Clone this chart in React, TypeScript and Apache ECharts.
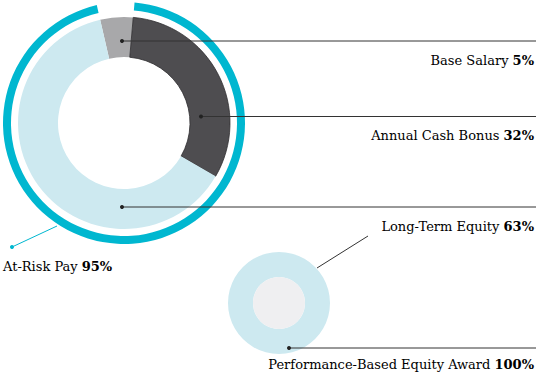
import React, { useEffect, useRef } from "react";
import * as echarts from "echarts";

const compCategories = ["Base Salary", "Annual Cash Bonus", "Long-Term Equity"];
const compValues = [5, 32, 63];
const atRiskLabel = "At-Risk Pay";
const atRiskValue = 95;
const perfLabel = "Performance-Based Equity Award";
const perfValue = 100;

const compColors = ["#a8a8aa", "#4e4d50", "#cde9f0"];
const TEAL = "#00b7d0";
const LINE = "#333333";
const FONT = "DejaVu Serif";

export default function App() {
  const ref = useRef<HTMLDivElement>(null);
  useEffect(() => {
    if (!ref.current) return;
    const chart = echarts.init(ref.current, null, { renderer: "svg" });
    const cx = 124, cy = 123;
    const labelText = (name: string, v: number) => `{n|${name} }{b|${v}%}`;
    const rich = {
      n: { fontFamily: FONT, fontSize: 13, color: "#333", fontWeight: "normal" },
      b: { fontFamily: FONT, fontSize: 13, color: "#222", fontWeight: "bold" },
    };
    const dots = [
      { x: 122, y: 41, ly: 60 },
      { x: 201, y: 116.5, ly: 135 },
      { x: 122, y: 207, ly: 226.5 },
    ];
    const graphic: any[] = [];
    compCategories.forEach((c, i) => {
      const d = dots[i];
      graphic.push({
        type: "line",
        silent: true,
        shape: { x1: d.x, y1: d.y, x2: 536, y2: d.y },
        style: { stroke: LINE, lineWidth: 1 },
        z: 10,
      });
      graphic.push({
        type: "circle",
        silent: true,
        shape: { cx: d.x, cy: d.y, r: 2 },
        style: { fill: "#222" },
        z: 11,
      });
      graphic.push({
        type: "text",
        silent: true,
        x: 534,
        y: d.ly,
        style: {
          text: labelText(c, compValues[i]),
          rich,
          align: "right",
          verticalAlign: "middle",
        },
        z: 10,
      });
    });
    // At-risk leader
    graphic.push({
      type: "line",
      silent: true,
      shape: { x1: 57, y1: 226, x2: 12, y2: 247 },
      style: { stroke: TEAL, lineWidth: 1 },
      z: 10,
    });
    graphic.push({
      type: "circle",
      silent: true,
      shape: { cx: 12, cy: 247, r: 2 },
      style: { fill: TEAL },
      z: 11,
    });
    graphic.push({
      type: "text",
      silent: true,
      x: 3,
      y: 266.5,
      style: { text: labelText(atRiskLabel, atRiskValue), rich, align: "left", verticalAlign: "middle" },
      z: 10,
    });
    // Small circle leader to Long-Term Equity
    graphic.push({
      type: "line",
      silent: true,
      shape: { x1: 317, y1: 268, x2: 368, y2: 236 },
      style: { stroke: LINE, lineWidth: 1 },
      z: 10,
    });
    // Performance leader
    graphic.push({
      type: "line",
      silent: true,
      shape: { x1: 289, y1: 348, x2: 536, y2: 348 },
      style: { stroke: LINE, lineWidth: 1 },
      z: 10,
    });
    graphic.push({
      type: "circle",
      silent: true,
      shape: { cx: 289, cy: 348, r: 2 },
      style: { fill: "#222" },
      z: 11,
    });
    graphic.push({
      type: "text",
      silent: true,
      x: 534,
      y: 364.5,
      style: { text: labelText(perfLabel, perfValue), rich, align: "right", verticalAlign: "middle" },
      z: 10,
    });

    chart.setOption({
      animation: false,
      series: [
        {
          type: "pie",
          silent: true,
          center: [cx, cy],
          radius: [66, 106],
          startAngle: 103,
          clockwise: true,
          label: { show: false },
          labelLine: { show: false },
          data: compCategories.map((c, i) => ({
            name: c,
            value: compValues[i],
            itemStyle: {
              color: compColors[i],
              borderColor: i === 1 ? "#2e2d30" : compColors[i],
              borderWidth: i === 1 ? 0.8 : 0,
            },
          })),
        },
        {
          type: "pie",
          silent: true,
          center: [cx, cy],
          radius: [113, 121],
          startAngle: 103,
          clockwise: true,
          label: { show: false },
          labelLine: { show: false },
          data: [
            { name: "gap", value: 100 - atRiskValue, itemStyle: { color: "rgba(0,0,0,0)" } },
            { name: atRiskLabel, value: atRiskValue, itemStyle: { color: TEAL } },
          ],
        },
        {
          type: "pie",
          silent: true,
          center: [279, 303],
          radius: [26, 51],
          label: { show: false },
          labelLine: { show: false },
          data: [{ name: perfLabel, value: perfValue, itemStyle: { color: "#cde9f0" } }],
        },
        {
          type: "pie",
          silent: true,
          center: [279, 303],
          radius: [0, 26],
          label: { show: false },
          labelLine: { show: false },
          data: [{ name: "core", value: perfValue, itemStyle: { color: "#efeff1" } }],
        },
      ],
      graphic,
    });
    return () => chart.dispose();
  }, []);
  return (
    <div
      ref={ref}
      style={{ position: "fixed", left: 0, top: 0, width: 536, height: 374, background: "#fff" }}
    />
  );
}
